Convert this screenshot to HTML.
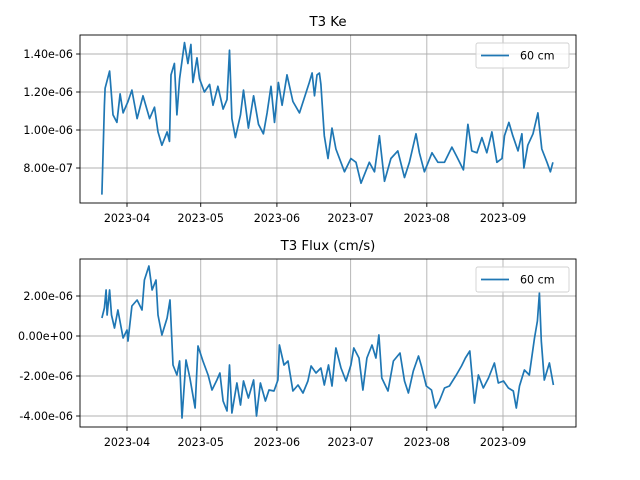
<!DOCTYPE html>
<html><head><meta charset="utf-8"><style>
body{margin:0;background:#fff}
svg{display:block;font-family:"DejaVu Sans","Liberation Sans",sans-serif}
</style></head><body>
<svg id="c" width="640" height="480"></svg>
<script>
const xTickLabels=["2023-04","2023-05","2023-06","2023-07","2023-08","2023-09"];
const xTickDays=[0,30,61,91,122,153];
const keTicks=[0.8,1.0,1.2,1.4];
const keTickLabels=["8.00e-07","1.00e-06","1.20e-06","1.40e-06"];
const fluxTicks=[-4,-2,0,2];
const fluxTickLabels=["-4.00e-06","-2.00e-06","0.00e+00","2.00e-06"];
const keDays=[-10.2,-9.2,-8.9,-7.1,-5.7,-4.1,-2.8,-1.6,0.4,2,4.1,6.5,9.2,11.2,12.6,14.2,16.3,17.3,17.9,19.3,20.3,21.4,23.4,24.8,26,26.8,28.5,29.5,31.5,33.6,35,37,39.1,40.7,41.7,42.7,44.1,46.2,47.4,49.4,51.5,53.5,55.5,57,58.6,60,61.6,63.1,65.1,67.5,70.2,74.2,75.3,76.3,77.3,78.3,78.9,79.7,80.3,81.8,83.4,85,88.5,91.1,93.2,95.2,98.6,100.7,102.7,104.8,107.4,110.2,112.9,114.9,117.6,119,121,124.1,126.5,129.2,132.2,134.2,136.9,138.7,140.3,142.4,144.4,146.4,148.5,150.5,152.6,153.6,155.4,157,159.1,160.7,161.5,163.1,165.2,167.2,168.8,170.9,172.3,173.3];
const keVals=[0.66,1.13,1.22,1.31,1.08,1.04,1.19,1.09,1.15,1.21,1.06,1.18,1.06,1.12,0.99,0.92,0.99,0.94,1.29,1.35,1.08,1.27,1.46,1.35,1.45,1.25,1.38,1.27,1.20,1.24,1.13,1.23,1.11,1.16,1.42,1.06,0.96,1.08,1.21,1.01,1.18,1.03,0.98,1.09,1.23,1.04,1.25,1.13,1.29,1.15,1.09,1.25,1.30,1.18,1.29,1.30,1.24,1.08,0.97,0.85,1.01,0.90,0.78,0.85,0.83,0.72,0.83,0.78,0.97,0.73,0.85,0.89,0.75,0.83,0.98,0.88,0.78,0.88,0.83,0.83,0.91,0.86,0.79,1.03,0.89,0.88,0.96,0.88,0.99,0.83,0.85,0.97,1.04,0.97,0.89,0.98,0.80,0.92,0.98,1.09,0.90,0.83,0.78,0.83];
const fluxDays=[-10.2,-9.2,-8.5,-8.1,-7.1,-6.3,-5.1,-3.7,-1.6,0,0.4,2,4.1,6.1,7.1,8.9,10.2,11.8,12.6,14.2,16.3,17.5,18.7,20.3,21.4,22.4,24,25.6,27.7,28.9,30.9,33,34.6,36.6,37.8,39.1,40.7,41.7,42.7,44.7,46.2,47.4,49.4,51.5,52.7,54.3,56.3,57.8,59.8,61.4,62,63.9,65.5,67.5,69.6,71.6,73.6,74.9,76.9,78.9,80.3,82,83.4,85,87.1,89.1,91.1,92.3,94.4,96,97.6,99.7,101.3,102.5,103.7,106.2,108.4,111.1,112.9,114.5,116.5,118.6,119.8,121.8,123.9,125.5,127.1,129.2,131.2,134,136.1,137.7,139.5,141.4,143,145,147.1,149.5,151.1,153.2,155.2,157.2,158.4,159.7,161.7,163.7,165.8,167,167.8,168.6,169.8,171.9,173.5];
const fluxVals=[0.9,1.4,2.3,1.05,2.3,1.05,0.4,1.3,-0.1,0.3,-0.25,1.5,1.8,1.3,2.8,3.5,2.3,2.8,1.05,0.05,0.9,1.8,-1.45,-1.95,-1.25,-4.1,-1.2,-2.1,-3.6,-0.5,-1.25,-1.95,-2.7,-2.2,-1.85,-3.25,-3.75,-1.45,-3.85,-2.35,-3.45,-2.25,-3.1,-2.2,-4.0,-2.35,-3.25,-2.7,-2.75,-2.2,-0.45,-1.45,-1.25,-2.75,-2.45,-2.85,-2.25,-1.5,-1.85,-1.6,-2.45,-1.45,-2.5,-0.6,-1.6,-2.25,-1.45,-0.6,-1.1,-2.7,-1.1,-0.45,-1.1,0.05,-2.1,-2.75,-1.25,-0.85,-2.25,-2.85,-1.75,-1.0,-1.5,-2.5,-2.7,-3.6,-3.25,-2.6,-2.5,-1.95,-1.5,-1.1,-0.75,-3.35,-1.95,-2.6,-2.1,-1.35,-2.35,-2.25,-2.6,-2.75,-3.6,-2.5,-1.7,-1.95,-0.1,0.75,2.15,-0.25,-2.2,-1.35,-2.45];

const svg=document.getElementById('c');
const NS='http://www.w3.org/2000/svg';
function mk(tag,attrs,parent){const e=document.createElementNS(NS,tag);for(const k in attrs)e.setAttribute(k,attrs[k]);(parent||svg).appendChild(e);return e;}
const X0=80,X1=576;
function xs(d){return 127+d*(376/153);}

function panel(name,top,bottom,yfn,ticks,tlabels,days,vals,title,titleY){
  const g=mk('g',{});
  
  
  ticks.forEach((t,i)=>{
    const y=yfn(t);
    const gl=mk('line',{x1:X0,x2:X1,y1:y,y2:y,stroke:'#b0b0b0','stroke-width':0.9},g);
    
    
    mk('line',{x1:X0-3.9,x2:X0,y1:y,y2:y,stroke:'#000','stroke-width':0.9},g);
    const tx=mk('text',{x:X0-7,y:y+4,'text-anchor':'end','font-size':11.1},g);
    tx.textContent=tlabels[i];
    
    
  });
  xTickDays.forEach((d,i)=>{
    const x=xs(d);
    const gl=mk('line',{x1:x,x2:x,y1:top,y2:bottom,stroke:'#b0b0b0','stroke-width':0.9},g);
    
    
    mk('line',{x1:x,x2:x,y1:bottom,y2:bottom+3.9,stroke:'#000','stroke-width':0.9},g);
    const tx=mk('text',{x:x,y:bottom+19,'text-anchor':'middle','font-size':11.1},g);
    tx.textContent=xTickLabels[i];
    
    
  });
  const pts=days.map((d,i)=>xs(d).toFixed(1)+','+yfn(vals[i]).toFixed(1)).join(' ');
  const ln=mk('polyline',{points:pts,fill:'none',stroke:'#1f77b4','stroke-width':1.7,'stroke-linejoin':'round'},g);
  
  
  const fr=mk('rect',{x:X0,y:top,width:X1-X0,height:bottom-top,fill:'none',stroke:'#000','stroke-width':0.9},g);
  
  
  const tt=mk('text',{x:(X0+X1)/2,y:titleY,'text-anchor':'middle','font-size':13.3},g);
  tt.textContent=title;
  
  
  const lg=mk('g',{},g);
  
  
  mk('rect',{x:476,y:top+8,width:93,height:25,rx:2,fill:'#fff','fill-opacity':0.8,stroke:'#d0d0d0','stroke-width':0.9},lg);
  mk('line',{x1:481,x2:509,y1:top+20.5,y2:top+20.5,stroke:'#1f77b4','stroke-width':1.7},lg);
  const lt=mk('text',{x:520,y:top+24.5,'font-size':11.1},lg);
  lt.textContent='60 cm';
  
  
}
panel('ke-panel',35,203,v=>130-(v-1.0)*190,keTicks,keTickLabels,keDays,keVals,'T3 Ke',26);
panel('flux-panel',259,427,v=>336-v*20,fluxTicks,fluxTickLabels,fluxDays,fluxVals,'T3 Flux (cm/s)',250);
</script>
</body></html>
